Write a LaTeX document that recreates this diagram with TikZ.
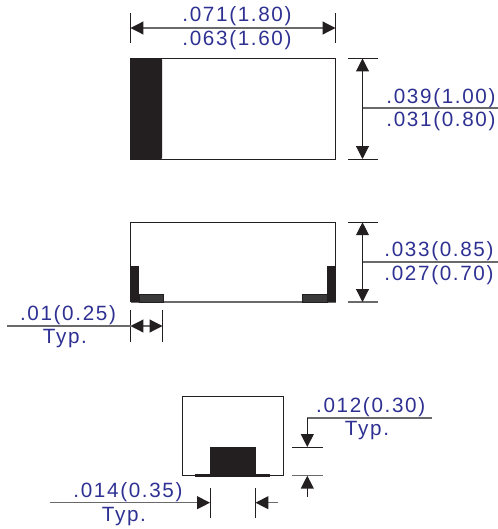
\documentclass[tikz,border=0pt]{standalone}
\usepackage{fontspec}
\setmainfont[LetterSpace=8]{Liberation Sans}
\usetikzlibrary{arrows.meta}
\definecolor{lbl}{HTML}{2E3192}
\definecolor{ink}{HTML}{231F20}
\definecolor{foot}{HTML}{3A3A3A}
\definecolor{leader}{HTML}{6A6A6A}
\tikzset{
  dimtext/.style={inner sep=0pt,anchor=base,text=lbl,font=\fontsize{15.5pt}{15.5pt}\selectfont},
  outline/.style={draw=ink,line width=0.75pt},
  extline/.style={draw=ink,line width=0.75pt},
  leaderline/.style={draw=leader,line width=0.9pt},
  dimline/.style={draw=ink,line width=0.8pt},
  solid ink/.style={fill=ink,draw=none},
  foot fill/.style={fill=foot,draw=ink,line width=0.3pt}
}
\begin{document}
\begin{tikzpicture}[x=0.75pt,y=-0.75pt]
\useasboundingbox (0,0) rectangle (498,529);
% --- coordinates
\coordinate (tl1) at (130.5,13); \coordinate (tl2) at (130.5,43);
\coordinate (tr1) at (335.5,13); \coordinate (tr2) at (335.5,43);
\coordinate (ta) at (130.5,28); \coordinate (tb) at (335.5,28);
\coordinate (r1a) at (348,58.5); \coordinate (r1b) at (378,58.5);
\coordinate (r2a) at (348,159); \coordinate (r2b) at (378,159);
\coordinate (ra) at (362.5,58.5); \coordinate (rb) at (362.5,159);
\coordinate (rl1) at (362.5,108); \coordinate (rl2) at (498,108);
\coordinate (m1a) at (347.5,222.3); \coordinate (m1b) at (378,222.3);
\coordinate (m2a) at (347.5,302); \coordinate (m2b) at (378,302);
\coordinate (ma) at (362.5,222.3); \coordinate (mb) at (362.5,302);
\coordinate (ml1) at (362.5,262); \coordinate (ml2) at (498,262);
\coordinate (l1a) at (130.5,310); \coordinate (l1b) at (130.5,342);
\coordinate (l2a) at (162.5,310); \coordinate (l2b) at (162.5,342);
\coordinate (la) at (130.5,326); \coordinate (lb) at (162.5,326);
\coordinate (lfree) at (7,326);
\coordinate (b1a) at (210,488); \coordinate (b1b) at (210,517.7);
\coordinate (b2a) at (255.5,488); \coordinate (b2b) at (255.5,517.7);
\coordinate (bfree1) at (50,502.7); \coordinate (btip1) at (210,502.7);
\coordinate (bfree2) at (278,502.7); \coordinate (btip2) at (255.5,502.7);
\coordinate (s1a) at (292,447); \coordinate (s1b) at (323,447);
\coordinate (s2a) at (292,475.7); \coordinate (s2b) at (323,475.7);
\coordinate (sl) at (431.7,418); \coordinate (sc) at (307.3,418);
\coordinate (stip1) at (307.3,447); \coordinate (stip2) at (307.3,475.7);
\coordinate (sfree) at (307.3,496.7);
% --- top view
\draw[outline] (130.5,58.7) rectangle (335.5,159);
\fill[ink,rounded corners=1pt] (130,58.2) rectangle (162,159.4);
% --- side view
\draw[outline] (130.5,222.3) -- (130.5,302);
\draw[outline] (130.5,222.3) -- (335.5,222.3) -- (335.5,302);
\draw[leaderline] (130.5,302) -- (335.5,302);
\fill[foot fill] (139,294) rectangle (163,302.3);
\fill[foot fill] (302,294) rectangle (327,302.3);
\fill[solid ink] (130,266) rectangle (139,302.3);
\fill[solid ink] (327,266) rectangle (336,302.3);
% --- end view
\draw[outline] (182.7,396) rectangle (283.3,475.7);
\fill[solid ink] (210,447) rectangle (256,477);
\fill[solid ink] (195.3,474.2) rectangle (270.3,477.2);
% --- top dimension
\draw[extline] (tl1) -- (tl2);
\draw[extline] (tr1) -- (tr2);
\draw[leaderline,{Triangle[length=9.6pt,width=9.6pt,color=ink]}-{Triangle[length=9.6pt,width=9.6pt,color=ink]}] (ta) -- (tb);
\node[dimtext] (t071) at (237,21.7) {.071(1.80)};
\node[dimtext] (t063) at (237,45.5) {.063(1.60)};
% --- right dimension, top view
\draw[extline] (r1a) -- (r1b);
\draw[extline] (r2a) -- (r2b);
\draw[dimline,{Triangle[length=9.6pt,width=9.6pt,color=ink]}-{Triangle[length=9.6pt,width=9.6pt,color=ink]}] (ra) -- (rb);
\draw[leaderline] (rl1) -- (rl2);
\node[dimtext] (t039) at (441,103) {.039(1.00)};
\node[dimtext] (t031) at (441,126) {.031(0.80)};
% --- right dimension, side view
\draw[extline] (m1a) -- (m1b);
\draw[leaderline] (m2a) -- (m2b);
\draw[dimline,{Triangle[length=9.6pt,width=9.6pt,color=ink]}-{Triangle[length=9.6pt,width=9.6pt,color=ink]}] (ma) -- (mb);
\draw[leaderline] (ml1) -- (ml2);
\node[dimtext] (t033) at (439,256.5) {.033(0.85)};
\node[dimtext] (t027) at (439,280) {.027(0.70)};
% --- left dimension
\draw[extline] (l1a) -- (l1b);
\draw[extline] (l2a) -- (l2b);
\draw[leaderline] (lfree) -- (la);
\draw[leaderline,{Triangle[length=9.6pt,width=9.6pt,color=ink]}-{Triangle[length=9.6pt,width=9.6pt,color=ink]}] (la) -- (lb);
\node[dimtext] (t01) at (68,320) {.01(0.25)};
\node[dimtext] (ttyp1) at (65,343) {Typ.};
% --- bottom dimension
\draw[extline] (b1a) -- (b1b);
\draw[extline] (b2a) -- (b2b);
\draw[leaderline,-{Triangle[length=9.6pt,width=9.6pt,color=ink]}] (bfree1) -- (btip1);
\draw[leaderline,-{Triangle[length=9.6pt,width=9.6pt,color=ink]}] (bfree2) -- (btip2);
\node[dimtext] (t014) at (128,497.3) {.014(0.35)};
\node[dimtext] (ttyp2) at (124,521) {Typ.};
% --- height dimension
\draw[extline] (s1a) -- (s1b);
\draw[leaderline] (s2a) -- (s2b);
\draw[leaderline] (sl) -- (sc);
\draw[dimline,-{Triangle[length=9.6pt,width=9.6pt,color=ink]}] (sc) -- (stip1);
\draw[dimline,-{Triangle[length=9.6pt,width=9.6pt,color=ink]}] (sfree) -- (stip2);
\node[dimtext] (t012) at (370.7,412.3) {.012(0.30)};
\node[dimtext] (ttyp3) at (367,435.7) {Typ.};
\end{tikzpicture}
\end{document}
